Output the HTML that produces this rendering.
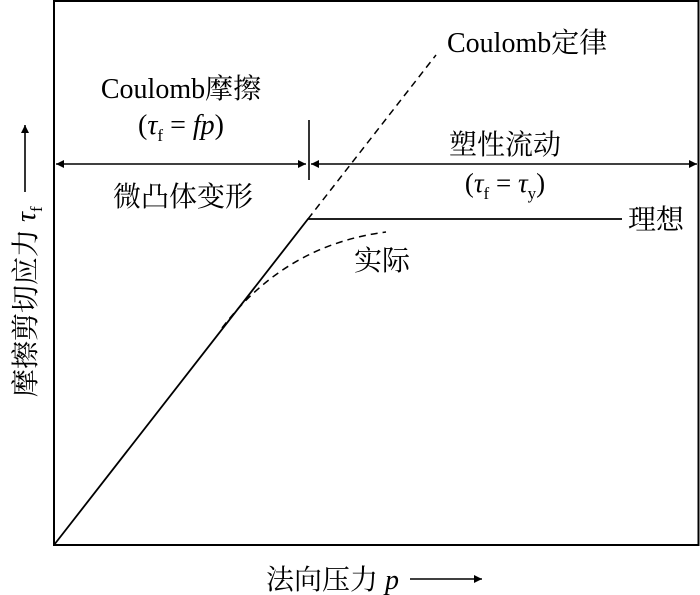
<!DOCTYPE html>
<html><head><meta charset="utf-8"><style>
html,body{margin:0;padding:0;background:#fff;}
svg{display:block;}
</style></head><body>
<svg width="700" height="595" viewBox="0 0 700 595" xmlns="http://www.w3.org/2000/svg" font-family="'Liberation Serif', 'Noto Serif CJK SC', serif">
<defs>
<marker id="a" viewBox="0 0 10 10" refX="10" refY="5" markerWidth="14" markerHeight="8" markerUnits="userSpaceOnUse" orient="auto-start-reverse">
<path d="M0,0 L10,5 L0,10 z" fill="#000"/></marker>
</defs>
<rect x="54" y="1" width="644.5" height="544" fill="none" stroke="#000" stroke-width="2"/>
<line x1="56" y1="164" x2="306" y2="164" stroke="#000" stroke-width="1.6" marker-start="url(#a)" marker-end="url(#a)"/>
<line x1="311" y1="164" x2="697" y2="164" stroke="#000" stroke-width="1.6" marker-start="url(#a)" marker-end="url(#a)"/>
<line x1="309" y1="120" x2="309" y2="180" stroke="#000" stroke-width="1.6"/>
<polyline points="54,545 308,219 622,219" fill="none" stroke="#000" stroke-width="1.8"/>
<line x1="308" y1="219" x2="436" y2="55" stroke="#000" stroke-width="1.5" stroke-dasharray="7,5"/>
<path d="M222,328 Q285,245 386,232" fill="none" stroke="#000" stroke-width="1.5" stroke-dasharray="7,5"/>
<text x="447" y="52" font-size="28" font-family="Liberation Serif, Noto Serif CJK SC, serif">Coulomb定律</text>
<text x="181" y="98" font-size="28" text-anchor="middle" font-family="Liberation Serif, Noto Serif CJK SC, serif">Coulomb摩擦</text>
<text x="181" y="134" font-size="28" text-anchor="middle" font-family="Liberation Serif, serif">(<tspan font-style="italic">τ</tspan><tspan font-size="17" dy="7">f</tspan><tspan dy="-7"> = </tspan><tspan font-style="italic">fp</tspan>)</text>
<text x="183" y="206" font-size="28" text-anchor="middle" font-family="Noto Serif CJK SC, serif">微凸体变形</text>
<text x="505" y="154" font-size="28" text-anchor="middle" font-family="Noto Serif CJK SC, serif">塑性流动</text>
<text x="505" y="192" font-size="27" text-anchor="middle" font-family="Liberation Serif, serif">(<tspan font-style="italic">τ</tspan><tspan font-size="17" dy="7">f</tspan><tspan dy="-7"> = </tspan><tspan font-style="italic">τ</tspan><tspan font-size="17" dy="7">y</tspan><tspan dy="-7">)</tspan></text>
<text x="628" y="229" font-size="28" font-family="Noto Serif CJK SC, serif">理想</text>
<text x="354" y="270" font-size="28" font-family="Noto Serif CJK SC, serif">实际</text>
<text x="266" y="589" font-size="28" font-family="Liberation Serif, Noto Serif CJK SC, serif">法向压力 <tspan font-style="italic">p</tspan></text>
<line x1="410" y1="579" x2="482" y2="579" stroke="#000" stroke-width="1.6" marker-end="url(#a)"/>
<g transform="translate(35,397) rotate(-90)">
<text x="0" y="0" font-size="28" font-family="Liberation Serif, Noto Serif CJK SC, serif">摩擦剪切应力 <tspan font-style="italic">τ</tspan><tspan font-size="17" dy="7">f</tspan></text>
<line x1="205" y1="-10" x2="272" y2="-10" stroke="#000" stroke-width="1.6" marker-end="url(#a)"/>
</g>
</svg>
</body></html>
